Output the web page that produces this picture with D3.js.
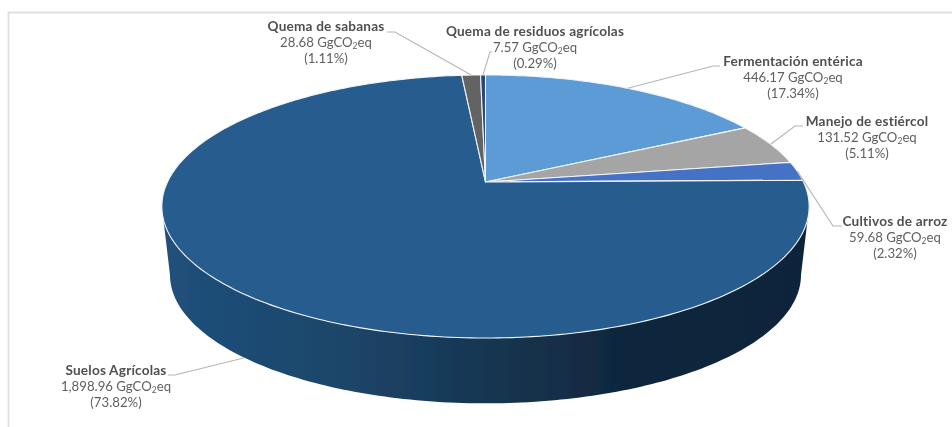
<!DOCTYPE html>
<html lang="es">
<head>
<meta charset="utf-8">
<script src="https://cdn.jsdelivr.net/npm/d3@7/dist/d3.min.js"></script>
<style>
html,body{margin:0;padding:0;background:#fff;overflow:hidden}
svg{display:block}
text{font-family:Lato,"Open Sans",sans-serif;text-anchor:middle}
</style>
</head>
<body>
<svg id="c" width="952" height="427"></svg>
<script>
const categories = ["Fermentación entérica","Manejo de estiércol","Cultivos de arroz","Suelos Agrícolas","Quema de sabanas","Quema de residuos agrícolas"];
const values = [446.17,131.52,59.68,1898.96,28.68,7.57];
const valueLabels = ["446.17","131.52","59.68","1,898.96","28.68","7.57"];
const percentLabels = ["(17.34%)","(5.11%)","(2.32%)","(73.82%)","(1.11%)","(0.29%)"];
const unitMain = "GgCO";
const unitSub = "2";
const unitEnd = "eq";
const colors = ["#5b9bd5","#a5a5a5","#4472c4","#255b8e","#636363","#264478"];

// layout of labels: [centre x, first baseline y, elbow x, elbow y, leader start x]
const labelLayout = [
  [793,66, 713,66, 720],
  [867,126, 795,126, 803],
  [895,226, 833,226, 842],
  [116,375, 175,375, 168],
  [326,31, 395,32, 387],
  [535,36, 490,52, 492]
];
const labelLineStep = 16.2;

const persp = 0.186;
const topDisc = {cx:485.5, cy:182, R:318, Rk:127};
const baseDisc = {cx:485.5, cy:251, R:310, Rk:124};

function project(disc, a){
  const s = 1/(1+persp*Math.cos(a));
  return [disc.cx + disc.R*Math.sin(a)*s, disc.cy - disc.Rk*Math.cos(a)*s];
}
function arcPoints(disc, a0, a1){
  const n = Math.max(2, Math.ceil(Math.abs(a1-a0)/(Math.PI/180)));
  return d3.range(n+1).map(i => project(disc, a0+(a1-a0)*i/n));
}

const svg = d3.select("#c");
const defs = svg.append("defs");
const grad = defs.append("linearGradient").attr("id","side")
  .attr("gradientUnits","userSpaceOnUse").attr("x1",165).attr("x2",810).attr("y1",0).attr("y2",0);
[[0,"#20507c"],[0.28,"#1c4569"],[0.5,"#173652"],[0.72,"#10263c"],[1,"#0f243a"]]
  .forEach(s => grad.append("stop").attr("offset",s[0]).attr("stop-color",s[1]));
defs.append("filter").attr("id","soft").attr("x","-5%").attr("y","-5%").attr("width","110%").attr("height","110%")
  .append("feGaussianBlur").attr("stdDeviation",0.35);

// chart frame
svg.append("path").attr("d","M8.5,427V12.5H952").attr("fill","none").attr("stroke","#e0e0e0").attr("stroke-width",1.8);

const pie = d3.pie().sort(null).value(d=>d).startAngle(0).endAngle(2*Math.PI);
const arcs = pie(values);
const line = d3.line();

// side wall: silhouette angles are where the ellipse reaches its x extremes
const silR = Math.acos(-persp), silL = 2*Math.PI - silR;
const sidePts = arcPoints(topDisc, silR, silL).concat(arcPoints(baseDisc, silL, silR));
svg.append("path").attr("d", line(sidePts)+"Z").attr("fill","url(#side)").attr("filter","url(#soft)");

// top slices
svg.append("g").selectAll("path").data(arcs).join("path")
  .attr("d", d => line([[topDisc.cx,topDisc.cy]].concat(arcPoints(topDisc,d.startAngle,d.endAngle)))+"Z")
  .attr("fill",(d,i)=>colors[i])
  .attr("stroke","#f2f5f8").attr("stroke-width",1.1).attr("stroke-linejoin","round")
  .attr("filter","url(#soft)");

// leader lines
svg.append("g").selectAll("path").data(arcs).join("path")
  .attr("d",(d,i)=>{
    const mid=(d.startAngle+d.endAngle)/2, L=labelLayout[i];
    const end = categories[i]==="Suelos Agrícolas" ? project(baseDisc,mid) : project(topDisc,mid);
    return line([[L[4],L[3]],[L[2],L[3]],end]);
  })
  .attr("fill","none").attr("stroke","#b5b5b5").attr("stroke-width",1.1);

// labels
const labels = svg.append("g").attr("filter","url(#soft)").selectAll("g").data(categories).join("g");
labels.each(function(name,i){
  const g=d3.select(this), L=labelLayout[i];
  g.append("text").attr("x",L[0]).attr("y",L[1]).attr("font-size",13.6).attr("letter-spacing",0.2).attr("font-weight",700).attr("fill","#505050").text(name);
  const t=g.append("text").attr("x",L[0]).attr("y",L[1]+labelLineStep).attr("font-size",13.2).attr("fill","#606060");
  t.append("tspan").text(valueLabels[i]+" "+unitMain);
  t.append("tspan").attr("font-size",8.5).attr("dy",2).text(unitSub);
  t.append("tspan").attr("dy",-2).text(unitEnd);
  g.append("text").attr("x",L[0]).attr("y",L[1]+2*labelLineStep).attr("font-size",13.2).attr("fill","#606060").text(percentLabels[i]);
});
</script>
</body>
</html>
